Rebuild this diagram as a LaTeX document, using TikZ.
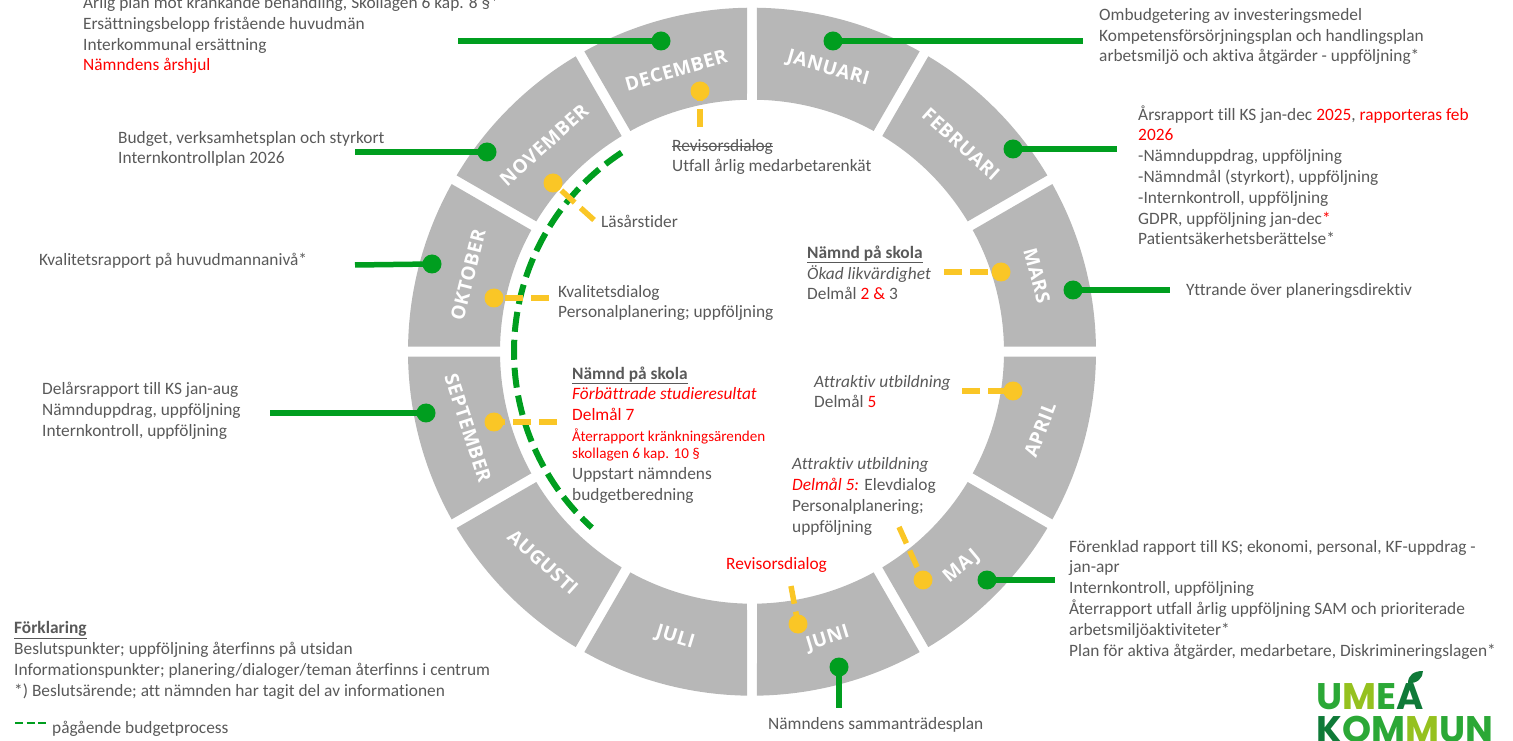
\documentclass[tikz,border=0pt]{standalone}
\usepackage{fontspec}
\setmainfont{Carlito}[RawFeature=-liga]
\newfontfamily\monthfont[LetterSpace=3]{Open Sans}
\newfontfamily\logofont{Poppins}
\usetikzlibrary{calc}
\definecolor{ringgray}{HTML}{B7B7B7}
\definecolor{dotgreen}{HTML}{009E1F}
\definecolor{dotyellow}{HTML}{FAC626}
\definecolor{textgray}{HTML}{595959}
\definecolor{logodark}{HTML}{0F7A38}
\definecolor{logomid}{HTML}{2BA836}
\definecolor{logolime}{HTML}{95C11F}
\def\ringseg(#1:#2){\fill[ringgray] ($(752,388.3)+(#1+0.83:344)$) arc (#1+0.83:#2-0.83:344) -- ($(752,388.3)+(#2-1.14:252)$) arc (#2-1.14:#1+1.14:252) -- cycle;}
\def\strikeword#1{\leavevmode\setbox0=\hbox{#1}\rlap{\rule[0.27em]{\wd0}{0.9pt}}\box0}
\tikzset{
	month/.style={font=\monthfont\fontsize{19}{21}\selectfont\bfseries, text=white, inner sep=0},
	info/.style={font=\fontsize{17.35}{20.8}\selectfont, text=textgray, anchor=base west, align=left, inner sep=0},
	greendot/.style={circle, fill=dotgreen, minimum size=19, inner sep=0},
	yellowdot/.style={circle, fill=dotyellow, minimum size=19, inner sep=0},
	greenline/.style={draw=dotgreen, line width=5.5, shorten <=-2},
	yellowline/.style={draw=dotyellow, line width=5.5, dash pattern=on 18 off 8, shorten >=-2},
}
\begin{document}
\begin{tikzpicture}[x=1pt,y=1pt]
	\useasboundingbox (0,0) rectangle (1513,740);
	%%%%% RING %%%%%
	\foreach \a in {0,30,...,330} {
		\pgfmathsetmacro{\b}{\a+30}
		\ringseg(\a:\b);
	}
	
	\node[month, rotate=-16] (januari) at (828,671) {JANUARI};
	\node[month, rotate=-42] (februari) at (961,596) {FEBRUARI};
	\node[month, rotate=-75] (mars) at (1037,464) {MARS};
	\node[month, rotate=69] (april) at (1040,310) {APRIL};
	\node[month, rotate=40] (maj) at (962,173) {MAJ};
	\node[month, rotate=17] (juni) at (828,101) {JUNI};
	\node[month, rotate=-17] (juli) at (675,102) {JULI};
	\node[month, rotate=-42] (augusti) at (543,178) {AUGUSTI};
	\node[month, rotate=-72] (september) at (468,312) {SEPTEMBER};
	\node[month, rotate=76] (oktober) at (468,465) {OKTOBER};
	\node[month, rotate=42] (november) at (544,595) {NOVEMBER};
	\node[month, rotate=16] (december) at (676,670) {DECEMBER};
	
	%%%%% BUDGET ARC %%%%%
	\draw[dotgreen, line width=6, dash pattern=on 20 off 8] ($(752,388.3)+(123.2:238)$) arc (123.2:227.7:238);
	
	%%%%% GREEN CONNECTORS %%%%%
	\node[greendot] (decdot) at (661,699) {};
	\node[greendot] (jandot) at (833,699) {};
	\node[greendot] (febdot) at (1013,591) {};
	\node[greendot] (novdot) at (487,588) {};
	\node[greendot] (oktdot) at (432,476) {};
	\node[greendot] (marsdot) at (1073,450) {};
	\node[greendot] (sepdot) at (426,327) {};
	\node[greendot] (majdot) at (987,160) {};
	\node[greendot] (junidot) at (839,73) {};
	\coordinate (decend) at (458,699);
	\coordinate (janend) at (1083,699);
	\coordinate (febend) at (1117,591);
	\coordinate (novend) at (355,588);
	\coordinate (oktend) at (355,475);
	\coordinate (marsend) at (1170,450);
	\coordinate (sepend) at (270,327);
	\coordinate (majend) at (1055,160);
	\coordinate (juniend) at (839,32);
	\draw[greenline] (decdot) -- (decend);
	\draw[greenline] (jandot) -- (janend);
	\draw[greenline] (febdot) -- (febend);
	\draw[greenline] (novdot) -- (novend);
	\draw[greenline] (oktdot) -- (oktend);
	\draw[greenline] (marsdot) -- (marsend);
	\draw[greenline] (sepdot) -- (sepend);
	\draw[greenline] (majdot) -- (majend);
	\draw[greenline] (junidot) -- (juniend);
	
	%%%%% YELLOW CONNECTORS %%%%%
	\node[yellowdot] (decpin) at (700,649) {};
	\node[yellowdot] (novpin) at (553,557) {};
	\node[yellowdot] (oktpin) at (494,442) {};
	\node[yellowdot] (marspin) at (1001,468) {};
	\node[yellowdot] (seppin) at (494,318) {};
	\node[yellowdot] (aprilpin) at (1013,349) {};
	\node[yellowdot] (majpin) at (923,160) {};
	\node[yellowdot] (junipin) at (798,116) {};
	\coordinate (decfree) at (700,613);
	\coordinate (novfree) at (594,520);
	\coordinate (oktfree) at (549,442);
	\coordinate (marsfree) at (944,468);
	\coordinate (sepfree) at (557,318);
	\coordinate (aprilfree) at (962,349);
	\coordinate (majfree) at (899,213);
	\coordinate (junifree) at (791,154);
	\draw[yellowline] (decfree) -- (decpin);
	\draw[yellowline] (novfree) -- (novpin);
	\draw[yellowline] (oktfree) -- (oktpin);
	\draw[yellowline] (marsfree) -- (marspin);
	\draw[yellowline] (sepfree) -- (seppin);
	\draw[yellowline] (aprilfree) -- (aprilpin);
	\draw[yellowline] (majfree) -- (majpin);
	\draw[yellowline] (junifree) -- (junipin);
	
	%%%%% OUTSIDE TEXTS %%%%%
	\node[info] (dectext) at (83,669) {Årlig plan mot kränkande behandling, Skollagen 6 kap. 8 §*\\Ersättningsbelopp fristående huvudmän\\Interkommunal ersättning\\\textcolor{red}{Nämndens årshjul}};
	\node[info] (jantext) at (1099,678) {Ombudgetering av investeringsmedel\\Kompetensförsörjningsplan och handlingsplan\\arbetsmiljö och aktiva åtgärder - uppföljning*};
	\node[info] (febtext) at (1138,495) {Årsrapport till KS jan-dec \textcolor{red}{2025}, \textcolor{red}{rapporteras feb}\\\textcolor{red}{2026}\\-Nämnduppdrag, uppföljning\\-Nämndmål (styrkort), uppföljning\\-Internkontroll, uppföljning\\GDPR, uppföljning jan-dec\textcolor{red}{*}\\Patientsäkerhetsberättelse*};
	\node[info] (novtext) at (118,576) {Budget, verksamhetsplan och styrkort\\Internkontrollplan 2026};
	\node[info] (okttext) at (39,474) {Kvalitetsrapport på huvudmannanivå*};
	\node[info] (marstext) at (1186,444) {Yttrande över planeringsdirektiv};
	\node[info] (septext) at (42,304) {Delårsrapport till KS jan-aug\\Nämnduppdrag, uppföljning\\Internkontroll, uppföljning};
	\node[info] (majtext) at (1069,84) {Förenklad rapport till KS; ekonomi, personal, KF-uppdrag -\\jan-apr\\Internkontroll, uppföljning\\Återrapport utfall årlig uppföljning SAM och prioriterade\\arbetsmiljöaktiviteter*\\Plan för aktiva åtgärder, medarbetare, Diskrimineringslagen*};
	\node[info] (junitext) at (768,11) {Nämndens sammanträdesplan};
	
	%%%%% CENTRE TEXTS %%%%%
	\node[info] (decinner) at (672,568) {\strikeword{Revisorsdialog}\\Utfall årlig medarbetarenkät};
	\node[info] (novinner) at (601,512) {Läsårstider};
	\node[info] (oktinner) at (558,422) {Kvalitetsdialog\\Personalplanering; uppföljning};
	\node[info] (marsinner) at (807,440) {\underline{\textbf{Nämnd på skola}}\\\textit{Ökad likvärdighet}\\Delmål \textcolor{red}{2 \&} 3};
	\node[info] (sepinner) at (572,240) {\underline{\textbf{Nämnd på skola}}\\\textcolor{red}{\textit{Förbättrade studieresultat}}\\\textcolor{red}{Delmål 7}\\{\fontsize{15.1}{17}\selectfont\textcolor{red}{Återrapport kränkningsärenden}}\\[-3.8pt]{\fontsize{15.1}{17}\selectfont\textcolor{red}{skollagen 6 kap. 10 §}}\\Uppstart nämndens\\budgetberedning};
	\node[info] (aprilinner) at (814,332) {\textit{Attraktiv utbildning}\\Delmål \textcolor{red}{5}};
	\node[info] (majinner) at (792,208) {\textit{Attraktiv utbildning}\\\textcolor{red}{\textit{Delmål 5:}} Elevdialog\\Personalplanering;\\uppföljning};
	\node[info, text=red] (juniinner) at (726,171) {Revisorsdialog};
	
	%%%%% LEGEND %%%%%
	\node[info] (legendtext) at (14,44) {\underline{\textbf{Förklaring}}\\Beslutspunkter; uppföljning återfinns på utsidan\\Informationspunkter; planering/dialoger/teman återfinns i centrum\\*) Beslutsärende; att nämnden har tagit del av informationen};
	\coordinate (legendstart) at (15,17);
	\coordinate (legendstop) at (46,17);
	\draw[dotgreen, line width=2.5, dash pattern=on 8 off 3.5] (legendstart) -- (legendstop);
	\node[info] (legendbudget) at (52,7) {pågående budgetprocess};
	
	%%%%% LOGO %%%%%
	\node[anchor=base west, inner sep=0, font=\logofont\fontsize{37}{37}\selectfont\bfseries] (logoumea) at (1316,31) {\textcolor{logomid}{U}\textcolor{logolime}{M}\textcolor{logomid}{E}\textcolor{logodark}{Å}};
	\node[anchor=base west, inner sep=0, font=\logofont\fontsize{37}{37}\selectfont\bfseries] (logokommun) at (1316,-2) {\textcolor{logodark}{K}\textcolor{logomid}{O}\textcolor{logomid}{M}\textcolor{logolime}{M}\textcolor{logomid}{U}\textcolor{logomid}{N}};
	\fill[white] (1392,57.5) rectangle (1426,75);
	\fill[logodark] (1408,57) .. controls (1408,65) and (1414,69) .. (1423,69) .. controls (1423,62) and (1417,56) .. (1408,57) -- cycle;
\end{tikzpicture}
\end{document}
